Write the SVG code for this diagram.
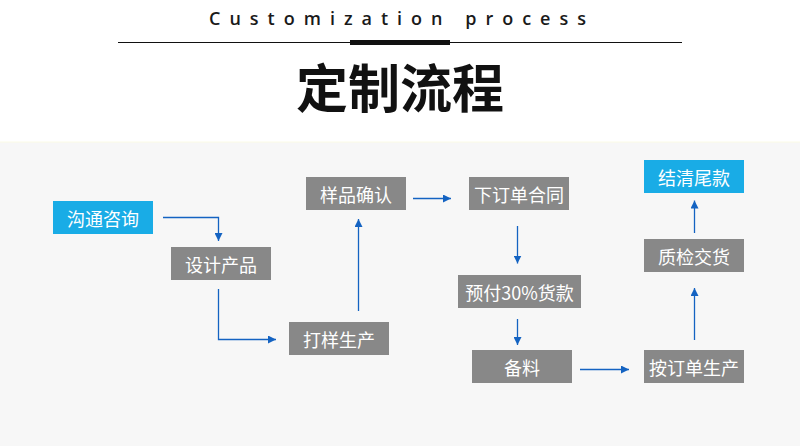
<svg xmlns="http://www.w3.org/2000/svg" width="800" height="446" viewBox="0 0 800 446">
<defs>
<style>
.box{fill:#888888}
.blue{fill:#19ace6}
.lbl{fill:#ffffff;font-family:"Noto Sans CJK SC","Noto Sans",sans-serif;font-size:18px;text-anchor:middle;dominant-baseline:central}
.con{fill:none;stroke:#1463c2;stroke-width:1.3;marker-end:url(#ah)}
</style>
<marker id="ah" viewBox="0 0 10 10" refX="10" refY="5" markerUnits="userSpaceOnUse" markerWidth="8" markerHeight="8" orient="auto">
<path d="M0,0 L10,5 L0,10 z" fill="#1463c2"/>
</marker>
</defs>
<rect x="0" y="0" width="800" height="142" fill="#ffffff"/>
<rect x="0" y="142" width="800" height="304" fill="#f7f7f7"/>
<line x1="0" y1="142" x2="800" y2="142" stroke="#fbfbe6" stroke-width="1"/>
<g id="header">
<text x="209" y="25" font-family="'Open Sans','Noto Sans',sans-serif" font-size="18" font-weight="600" letter-spacing="9" fill="#1a1a1a">Customization process</text>
<line x1="118" y1="42.5" x2="682" y2="42.5" stroke="#111111" stroke-width="1.2"/>
<rect x="350" y="40" width="100" height="5" fill="#111111"/>
<text x="400" y="108" text-anchor="middle" font-family="'Noto Sans CJK SC',sans-serif" font-size="52" font-weight="700" fill="#111111">定制流程</text>
</g>
<g id="connectors">
<path class="con" d="M163,217.5 H218.5 V241"/>
<path class="con" d="M218.5,289 V339.5 H276"/>
<path class="con" d="M358.5,311 V219"/>
<path class="con" d="M413,198.5 H451"/>
<path class="con" d="M517.5,226 V263.5"/>
<path class="con" d="M517.5,319 V345"/>
<path class="con" d="M580,369.5 H629"/>
<path class="con" d="M694.5,340 V288"/>
<path class="con" d="M694.5,233 V200.5"/>
</g>
<g id="n1"><rect class="blue" x="53" y="201" width="100" height="33"/><text class="lbl" x="103" y="217.5">沟通咨询</text></g>
<g id="n2"><rect class="box" x="171" y="247" width="100" height="33"/><text class="lbl" x="221" y="263.5">设计产品</text></g>
<g id="n3"><rect class="box" x="289" y="322" width="100" height="33"/><text class="lbl" x="339" y="338.5">打样生产</text></g>
<g id="n4"><rect class="box" x="306" y="177" width="100" height="33"/><text class="lbl" x="356" y="193.5">样品确认</text></g>
<g id="n5"><rect class="box" x="469" y="177" width="100" height="33"/><text class="lbl" x="519" y="193.5">下订单合同</text></g>
<g id="n6"><rect class="box" x="458" y="275" width="123" height="33"/><text class="lbl" x="519.5" y="291.5">预付30%货款</text></g>
<g id="n7"><rect class="box" x="472" y="350" width="100" height="33"/><text class="lbl" x="522" y="366.5">备料</text></g>
<g id="n8"><rect class="box" x="644" y="350" width="100" height="33"/><text class="lbl" x="694" y="366.5">按订单生产</text></g>
<g id="n9"><rect class="box" x="644" y="239" width="100" height="33"/><text class="lbl" x="694" y="255.5">质检交货</text></g>
<g id="n10"><rect class="blue" x="644" y="160" width="100" height="33"/><text class="lbl" x="694" y="176.5">结清尾款</text></g>
</svg>
